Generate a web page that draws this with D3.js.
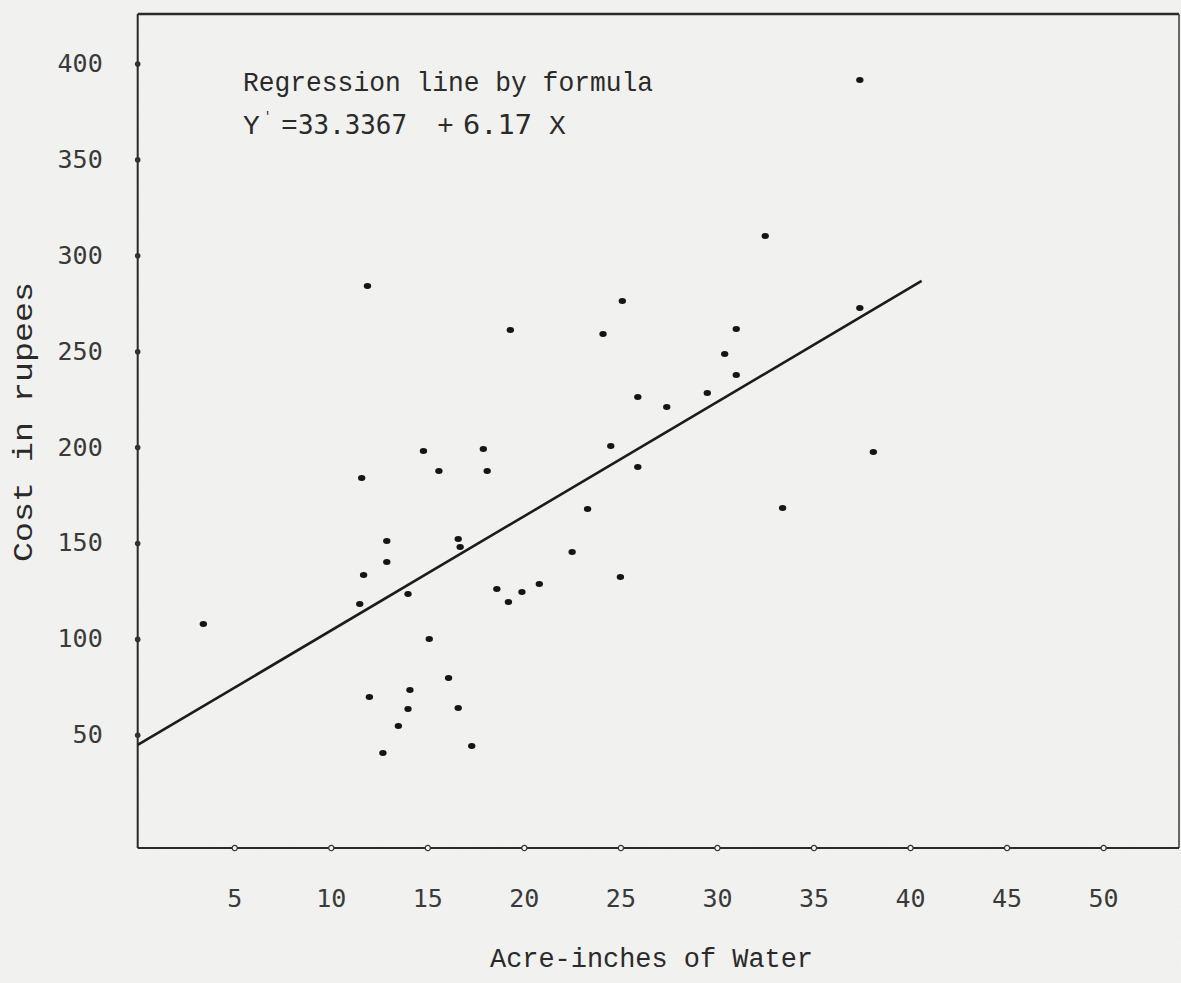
<!DOCTYPE html>
<html>
<head>
<meta charset="utf-8">
<script src="https://cdn.jsdelivr.net/npm/d3@7"></script>
<style>
  body { margin: 0; background: #f3f3f1; }
  svg { display: block; }
</style>
</head>
<body>
<div id="chart"></div>
<script>
// Acre-inches of water (x) and cost in rupees (y)
var water = [3.4, 11.9, 11.6, 12.9, 12.9, 11.7, 11.5, 14.0, 16.6, 16.7,
             15.1, 18.6, 19.2, 19.9, 20.8, 22.5, 23.3, 25.0, 12.0, 14.1,
             14.0, 13.5, 12.7, 16.1, 16.6, 17.3, 19.3, 25.1, 24.1, 25.9,
             27.4, 24.5, 25.9, 14.8, 17.9, 15.6, 18.1, 32.5, 31.0, 30.4,
             31.0, 29.5, 37.4, 38.1, 33.4, 37.4];
var cost = [107.8, 284.0, 183.9, 151.0, 140.1, 133.3, 118.2, 123.4, 152.1, 147.9,
            99.9, 126.0, 119.2, 124.5, 128.6, 145.3, 167.7, 132.3, 69.7, 73.4,
            63.5, 54.6, 40.5, 79.6, 64.0, 44.2, 261.1, 276.2, 259.0, 226.1,
            220.9, 200.6, 189.6, 198.0, 199.0, 187.5, 187.5, 310.1, 261.6, 248.5,
            237.6, 228.2, 272.5, 197.4, 168.2, 391.4];

// regression line as drawn (end points)
var lineX = [0, 40.6];
var lineY = [44.7, 286.6];

var xTicks = [5, 10, 15, 20, 25, 30, 35, 40, 45, 50];
var yTicks = [50, 100, 150, 200, 250, 300, 350, 400];

var W = 1181, H = 983;
var plotL = 137.7, plotT = 14, plotR = 1179, plotB = 848;

var svg = d3.select("#chart").append("svg")
    .attr("width", W)
    .attr("height", H);

// paper texture
var defs = svg.append("defs");
var filt = defs.append("filter").attr("id", "paper");
filt.append("feTurbulence")
    .attr("type", "fractalNoise")
    .attr("baseFrequency", 0.6)
    .attr("numOctaves", 2)
    .attr("seed", 3);
filt.append("feColorMatrix")
    .attr("type", "matrix")
    .attr("values", "0 0 0 0 0.55  0 0 0 0 0.55  0 0 0 0 0.55  0 0 0 0.09 0");

svg.append("rect").attr("width", W).attr("height", H).attr("fill", "#f3f3f1");
svg.append("rect").attr("width", W).attr("height", H).attr("filter", "url(#paper)");

var x = d3.scaleLinear().domain([0, 53.93]).range([plotL, plotR]);
var y = d3.scaleLinear().domain([-9.02, 425.8]).range([plotB, plotT]);

// frame
svg.append("line").attr("x1", plotL).attr("x2", plotR).attr("y1", plotT).attr("y2", plotT)
    .attr("stroke", "#2a2a2a").attr("stroke-width", 2.5);
svg.append("line").attr("x1", plotR).attr("x2", plotR).attr("y1", plotT).attr("y2", plotB)
    .attr("stroke", "#3a3a3a").attr("stroke-width", 1.5);
svg.append("line").attr("x1", plotL).attr("x2", plotL).attr("y1", plotT).attr("y2", plotB)
    .attr("stroke", "#2a2a2a").attr("stroke-width", 2);
svg.append("line").attr("x1", plotL).attr("x2", plotR).attr("y1", plotB).attr("y2", plotB)
    .attr("stroke", "#2a2a2a").attr("stroke-width", 2);

// axes (labels only, frame drawn above)
var xAxis = svg.append("g")
    .attr("transform", "translate(0," + plotB + ")")
    .call(d3.axisBottom(x).tickValues(xTicks).tickSize(0).tickPadding(50));
var yAxis = svg.append("g")
    .attr("transform", "translate(" + plotL + ",0)")
    .call(d3.axisLeft(y).tickValues(yTicks).tickSize(0).tickPadding(35));

[xAxis, yAxis].forEach(function(a) {
    a.select(".domain").remove();
    a.attr("font-family", "'DejaVu Sans Mono', monospace")
        .attr("font-size", 25);
    a.selectAll("text")
        .attr("fill", "#3a3a3a");
});
xAxis.selectAll("text").attr("dy", "0.35em");

// tick dots on the axes
xAxis.selectAll(".tick").append("circle")
    .attr("r", 2.6).attr("fill", "#f3f3f1").attr("stroke", "#333").attr("stroke-width", 1.3);
yAxis.selectAll(".tick").append("circle")
    .attr("r", 2.8).attr("fill", "#333");

// regression line
svg.append("line")
    .attr("x1", x(lineX[0])).attr("y1", y(lineY[0]))
    .attr("x2", x(lineX[1])).attr("y2", y(lineY[1]))
    .attr("stroke", "#1c1c1c")
    .attr("stroke-width", 2.6);

// points
svg.selectAll("ellipse.pt")
    .data(water)
    .enter()
    .append("ellipse")
    .attr("class", "pt")
    .attr("cx", function(d) { return x(d); })
    .attr("cy", function(d, i) { return y(cost[i]); })
    .attr("rx", 3.7)
    .attr("ry", 3)
    .attr("fill", "#151515");

// annotation
var note = svg.append("g")
    .attr("font-family", "'Liberation Mono', 'Courier New', monospace")
    .attr("font-size", 28)
    .attr("fill", "#2a2a2a");
note.append("text")
    .attr("x", 243).attr("y", 91)
    .attr("textLength", 410).attr("lengthAdjust", "spacingAndGlyphs")
    .text("Regression line by formula");
var eq = note.append("text").attr("y", 134);
eq.append("tspan").attr("x", 243).text("Y");
eq.append("tspan").attr("x", 264).attr("dy", -14).attr("font-size", 12).text("'");
eq.append("tspan").attr("x", 281).attr("dy", 14).text("=");
eq.append("tspan").attr("x", 298).attr("textLength", 109).attr("lengthAdjust", "spacingAndGlyphs")
    .attr("font-family", "'DejaVu Sans Mono', monospace").attr("font-size", 26).text("33.3367");
eq.append("tspan").attr("x", 437).text("+");
eq.append("tspan").attr("x", 463).attr("textLength", 69).attr("lengthAdjust", "spacingAndGlyphs")
    .attr("font-family", "'DejaVu Sans Mono', monospace").attr("font-size", 26).text("6.17");
eq.append("tspan").attr("x", 549).text("X");

// axis titles
svg.append("text")
    .attr("x", 490).attr("y", 967)
    .attr("textLength", 323).attr("lengthAdjust", "spacingAndGlyphs")
    .attr("font-family", "'Liberation Mono', 'Courier New', monospace")
    .attr("font-size", 27)
    .attr("fill", "#2a2a2a")
    .text("Acre-inches of Water");

svg.append("text")
    .attr("transform", "translate(32,562) rotate(-90)")
    .attr("textLength", 280).attr("lengthAdjust", "spacingAndGlyphs")
    .attr("font-family", "'Liberation Mono', 'Courier New', monospace")
    .attr("font-size", 27)
    .attr("fill", "#2a2a2a")
    .text("Cost in rupees");
</script>
</body>
</html>
